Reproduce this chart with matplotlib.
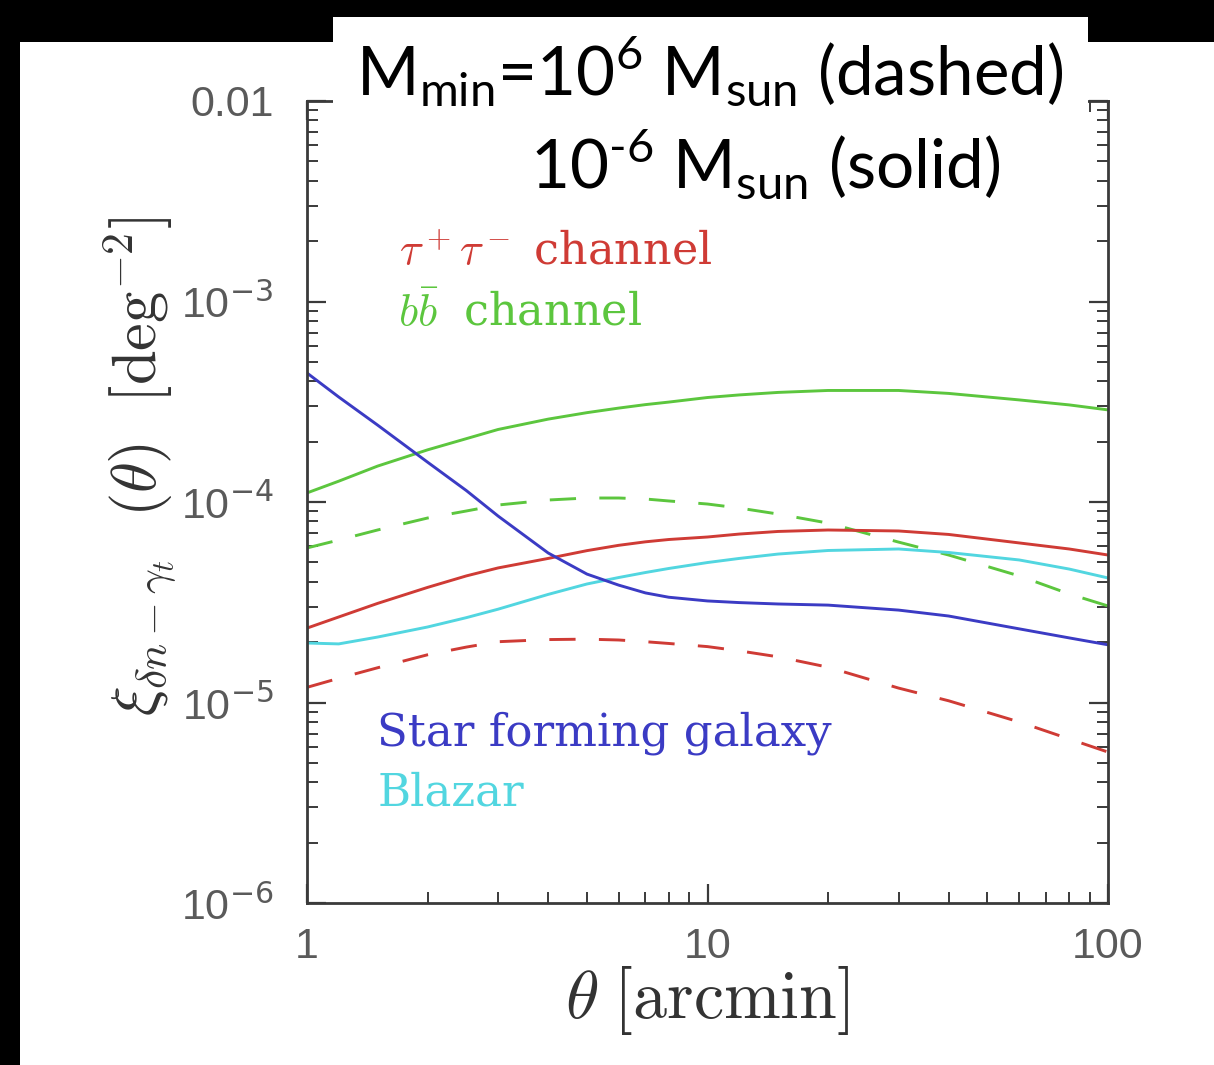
import numpy as np
import matplotlib
matplotlib.use('Agg')
import matplotlib.pyplot as plt
from matplotlib.patches import Rectangle
from matplotlib.ticker import FixedLocator, LogLocator, NullFormatter

# angular separation [arcmin]
theta = np.array([1, 1.2, 1.5, 2, 2.5, 3, 4, 5, 6, 7, 8, 10, 12, 15, 20, 30, 40, 60, 80, 100])

# cross-correlation xi(theta) [deg^-2]
star_forming = np.array([4.40e-4, 3.34e-4, 2.42e-4, 1.58e-4, 1.14e-4, 8.51e-5, 5.57e-5, 4.37e-5,
                         3.85e-5, 3.52e-5, 3.35e-5, 3.21e-5, 3.15e-5, 3.10e-5, 3.06e-5, 2.89e-5,
                         2.70e-5, 2.33e-5, 2.10e-5, 1.94e-5])
blazar = np.array([1.98e-5, 1.96e-5, 2.12e-5, 2.38e-5, 2.65e-5, 2.92e-5, 3.46e-5, 3.90e-5,
                   4.20e-5, 4.45e-5, 4.66e-5, 4.99e-5, 5.23e-5, 5.50e-5, 5.73e-5, 5.83e-5,
                   5.60e-5, 5.14e-5, 4.63e-5, 4.18e-5])
bb_solid = np.array([1.11e-4, 1.27e-4, 1.51e-4, 1.82e-4, 2.07e-4, 2.30e-4, 2.59e-4, 2.79e-4,
                     2.94e-4, 3.06e-4, 3.15e-4, 3.32e-4, 3.42e-4, 3.52e-4, 3.60e-4, 3.60e-4,
                     3.48e-4, 3.23e-4, 3.05e-4, 2.88e-4])
bb_dashed = np.array([5.90e-5, 6.46e-5, 7.25e-5, 8.32e-5, 9.02e-5, 9.66e-5, 1.023e-4, 1.047e-4,
                      1.047e-4, 1.035e-4, 1.012e-4, 9.77e-5, 9.33e-5, 8.71e-5, 7.85e-5, 6.31e-5,
                      5.44e-5, 4.28e-5, 3.48e-5, 3.03e-5])
tau_solid = np.array([2.35e-5, 2.67e-5, 3.12e-5, 3.75e-5, 4.28e-5, 4.69e-5, 5.23e-5, 5.72e-5,
                      6.08e-5, 6.33e-5, 6.50e-5, 6.69e-5, 6.92e-5, 7.13e-5, 7.25e-5, 7.17e-5,
                      6.89e-5, 6.25e-5, 5.83e-5, 5.44e-5])
tau_dashed = np.array([1.19e-5, 1.32e-5, 1.49e-5, 1.73e-5, 1.89e-5, 2.01e-5, 2.06e-5, 2.07e-5,
                       2.05e-5, 2.01e-5, 1.97e-5, 1.90e-5, 1.81e-5, 1.69e-5, 1.50e-5, 1.18e-5,
                       1.02e-5, 8.00e-6, 6.58e-6, 5.66e-6])

x_ticks = [1, 10, 100]
x_ticklabels = ['1', '10', '100']
y_ticks = [1e-6, 1e-5, 1e-4, 1e-3, 1e-2]
y_ticklabels = ['10$^{-6}$', '10$^{-5}$', '10$^{-4}$', '10$^{-3}$', '0.01']

RED = '#cf3b35'
GREEN = '#5cc63e'
BLUE = '#3b3bc4'
CYAN = '#52d6e0'

plt.rcParams['font.family'] = ['Liberation Sans', 'DejaVu Sans']
plt.rcParams['mathtext.fontset'] = 'dejavusans'

W, H = 1214, 1065
fig = plt.figure(figsize=(W / 100, H / 100), dpi=100, facecolor='black')

# white page inside the dark frame
fig.add_artist(Rectangle((20 / W, 0), 1, (H - 42) / H, transform=fig.transFigure,
                         facecolor='white', edgecolor='none', zorder=-5))

ax = fig.add_axes([307 / W, (H - 903) / H, 801 / W, 802 / H])
ax.set_xscale('log')
ax.set_yscale('log')

lw = 2.1
ax.plot(theta, bb_solid, color=GREEN, lw=lw)
ax.plot(theta, bb_dashed, color=GREEN, lw=lw, dashes=(9, 8))
ax.plot(theta, tau_solid, color=RED, lw=lw)
ax.plot(theta, tau_dashed, color=RED, lw=lw, dashes=(9, 8))
ax.plot(theta, blazar, color=CYAN, lw=lw)
ax.plot(theta, star_forming, color=BLUE, lw=lw)

ax.set_xlim(1, 100)
ax.set_ylim(1e-6, 1e-2)

ax.xaxis.set_major_locator(FixedLocator(x_ticks))
ax.set_xticklabels(x_ticklabels)
ax.xaxis.set_minor_locator(LogLocator(base=10, subs=np.arange(2, 10)))
ax.xaxis.set_minor_formatter(NullFormatter())
ax.yaxis.set_major_locator(FixedLocator(y_ticks))
ax.set_yticklabels(y_ticklabels)
ax.yaxis.set_minor_locator(LogLocator(base=10, subs=np.arange(2, 10)))
ax.yaxis.set_minor_formatter(NullFormatter())

for s in ax.spines.values():
    s.set_color('#3a3a3a')
    s.set_linewidth(2.0)
ax.tick_params(which='both', direction='in', top=True, right=True, color='#3a3a3a',
               labelcolor='#5a5a5a', labelsize=31)
ax.tick_params(which='major', length=14, width=1.6)
ax.tick_params(which='minor', length=8, width=1.4)
ax.tick_params(axis='y', which='major', pad=24)
ax.tick_params(axis='x', which='major', pad=17)

ax.set_xlabel(r'$\theta\;[{\rm arcmin}]$', fontsize=49, color='#333333',
              math_fontfamily='cm', va='center')
ax.xaxis.set_label_coords(0.5, -0.121)
ax.set_ylabel(r'$\xi_{\delta n - \gamma_t}\ \ (\theta)\ \ [{\rm deg}^{-2}]$', fontsize=45,
              color='#333333', math_fontfamily='cm', va='center')
ax.yaxis.set_label_coords(-0.208, 0.545)

serif = ['DejaVu Serif']
ax.text(0.115, 0.795, r'$\tau^+\tau^-$ channel', transform=ax.transAxes, color=RED,
        fontsize=32, family=serif, math_fontfamily='cm')
ax.text(0.113, 0.720, r'$b\bar{b}\ $ channel', transform=ax.transAxes, color=GREEN,
        fontsize=32, family=serif, math_fontfamily='cm')
ax.text(0.088, 0.196, 'Star forming galaxy', transform=ax.transAxes, color=BLUE,
        fontsize=32.5, family=serif)
ax.text(0.088, 0.122, 'Blazar', transform=ax.transAxes, color=CYAN,
        fontsize=32.5, family=serif)

# mass threshold note, boxed over the top of the frame
fig.add_artist(Rectangle((333 / W, (H - 210) / H), (1088 - 333) / W, 193 / H,
                         transform=fig.transFigure, facecolor='white', edgecolor='none',
                         zorder=10))
note_font = dict(family=['Lato', 'DejaVu Sans'], fontsize=48.5, color='black', zorder=11)
fig.text(356 / W, (H - 95) / H,
         r'M$_\mathregular{min}$=10$^\mathregular{6}$ M$_\mathregular{sun}$ (dashed)',
         ha='left', va='baseline', **note_font)
fig.text(530 / W, (H - 188) / H,
         '10$^\\mathregular{\u2010 6}$ M$_\\mathregular{sun}$ (solid)',
         ha='left', va='baseline', **note_font)

fig.savefig('out.png', dpi=100, facecolor=fig.get_facecolor())
